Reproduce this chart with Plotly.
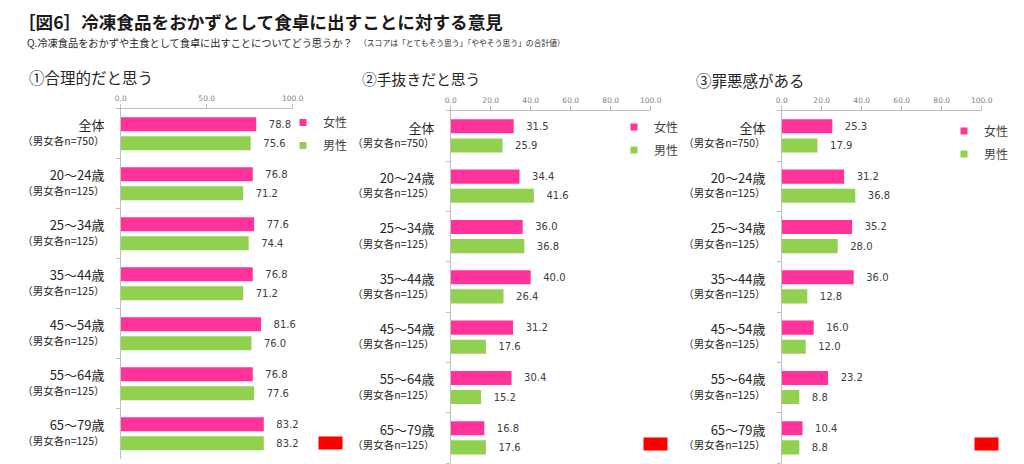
import plotly.graph_objects as go

# ---------------- data ----------------
categories = ["全体", "20～24歳", "25～34歳", "35～44歳", "45～54歳", "55～64歳", "65～79歳"]
sample_sizes = ["（男女各n=750）", "（男女各n=125）", "（男女各n=125）", "（男女各n=125）",
                "（男女各n=125）", "（男女各n=125）", "（男女各n=125）"]

panel_titles = ["①合理的だと思う", "②手抜きだと思う", "③罪悪感がある"]
series_names = ["女性", "男性"]

female_rational = [78.8, 76.8, 77.6, 76.8, 81.6, 76.8, 83.2]
male_rational = [75.6, 71.2, 74.4, 71.2, 76.0, 77.6, 83.2]

female_lazy = [31.5, 34.4, 36.0, 40.0, 31.2, 30.4, 16.8]
male_lazy = [25.9, 41.6, 36.8, 26.4, 17.6, 15.2, 17.6]

female_guilt = [25.3, 31.2, 35.2, 36.0, 16.0, 23.2, 10.4]
male_guilt = [17.9, 36.8, 28.0, 12.8, 12.0, 8.8, 8.8]

x_tick_steps = [50, 20, 20]

title_text = "［図6］冷凍食品をおかずとして食卓に出すことに対する意見"
subtitle_q = "Q.冷凍食品をおかずや主食として食卓に出すことについてどう思うか？"
subtitle_note = "（スコアは「とてもそう思う」「ややそう思う」の合計値）"
unit_text = "(%)"

# ---------------- styling ----------------
W, H = 1024, 464
OFF = 8  # page body margin of the browser
PINK = "#ff3399"
GREEN = "#92d050"
AXIS = "#bfbfbf"
JP = "Noto Sans CJK JP"
NUM = "DejaVu Sans"


def fx(px):
    return (px - OFF) / W


def fy(py):
    return 1 - (py - OFF) / H


# screen-pixel geometry of the three panels (left, right, top, bottom)
panels_px = [(120.7, 292.7, 108.7, 458.7),
             (450.7, 650.7, 110.7, 463.0),
             (781.7, 981.7, 110.7, 463.0)]

female_data = [female_rational, female_lazy, female_guilt]
male_data = [male_rational, male_lazy, male_guilt]

tick_labels = [
    f"<span style='font-size:13px'>{c}</span><br><span style='font-size:10.5px'>{s}</span>"
    for c, s in zip(categories, sample_sizes)
]

fig = go.Figure()
legend_names = ["legend", "legend2", "legend3"]

for i in range(3):
    xa = "x" if i == 0 else f"x{i+1}"
    ya = "y" if i == 0 else f"y{i+1}"
    for vals, name, col in [(female_data[i], series_names[0], PINK),
                            (male_data[i], series_names[1], GREEN)]:
        fig.add_trace(go.Bar(
            x=vals, y=categories, orientation="h", name=name,
            marker=dict(color=col, line=dict(width=0)),
            texttemplate="\u00a0\u00a0\u00a0%{x:.1f}", textposition="outside",
            textfont=dict(family=NUM, size=10, color="#404040"),
            constraintext="none", cliponaxis=False,
            xaxis=xa, yaxis=ya, showlegend=False, hoverinfo="skip",
        ))
    # legend entries
    for k, (name, col) in enumerate([(series_names[0], PINK), (series_names[1], GREEN)]):
        fig.add_trace(go.Scatter(
            x=[None], y=[None], mode="markers", name=name,
            marker=dict(symbol="square", size=7, color=col),
            xaxis=xa, yaxis=ya, legend=legend_names[i], showlegend=True,
            legendgroup=f"g{i}{k}",
        ))

layout = dict(
    width=W, height=H,
    margin=dict(l=0, r=0, t=0, b=0, autoexpand=False),
    paper_bgcolor="white", plot_bgcolor="white",
    barmode="group", bargap=0.24, bargroupgap=0.263,
    font=dict(family=JP, color="#404040"),
)

legend_pos = [(283, 108), (614, 112.5), (944, 116.5)]

for i, (l, r, t, b) in enumerate(panels_px):
    xk = "xaxis" if i == 0 else f"xaxis{i+1}"
    yk = "yaxis" if i == 0 else f"yaxis{i+1}"
    yref = "y" if i == 0 else f"y{i+1}"
    xref = "x" if i == 0 else f"x{i+1}"
    layout[xk] = dict(
        domain=[fx(l), fx(r)], anchor=yref, side="top", range=[0, 100],
        dtick=x_tick_steps[i], tick0=0, tickformat=".1f",
        showline=True, linecolor=AXIS, linewidth=1,
        ticks="outside", ticklen=4, tickcolor=AXIS,
        tickfont=dict(family=NUM, size=7.5, color="#7f7f7f"),
        showgrid=False, zeroline=False, fixedrange=True, automargin=False,
    )
    layout[yk] = dict(
        domain=[fy(b), fy(t)], anchor=xref, type="category",
        categoryorder="array", categoryarray=categories, autorange="reversed",
        showline=True, linecolor=AXIS, linewidth=1,
        ticks="outside", tickson="boundaries", ticklen=4, tickcolor=AXIS,
        tickmode="array", tickvals=categories, ticktext=tick_labels,
        tickfont=dict(family=JP, size=11, color="#262626"),
        ticklabelstandoff=13,
        showgrid=False, zeroline=False, fixedrange=True, automargin=False,
    )
    lx, ly = legend_pos[i]
    layout[legend_names[i]] = dict(
        x=fx(lx), y=fy(ly), xanchor="left", yanchor="top",
        bgcolor="rgba(0,0,0,0)", borderwidth=0,
        font=dict(family=JP, size=12, color="#404040"),
        tracegroupgap=4, itemclick=False, itemdoubleclick=False,
    )

annotations = [
    dict(text=f"<b>{title_text}</b>", x=fx(17), y=fy(21), xref="paper", yref="paper",
         xanchor="left", yanchor="middle", showarrow=False, borderpad=0,
         font=dict(family=JP, size=17.6, color="#1a1a1a")),
    dict(text=subtitle_q, x=fx(25), y=fy(42.5), xref="paper", yref="paper",
         xanchor="left", yanchor="middle", showarrow=False,
         font=dict(family=JP, size=10.2, color="#262626")),
    dict(text=subtitle_note, x=fx(357), y=fy(42.5), xref="paper", yref="paper",
         xanchor="left", yanchor="middle", showarrow=False,
         font=dict(family=JP, size=7.8, color="#262626")),
]
title_pos = [(27, 77, 15.5), (360, 79, 14.8), (694, 80, 15.5)]
for (tx, ty, ts), t in zip(title_pos, panel_titles):
    annotations.append(dict(text=t, x=fx(tx), y=fy(ty), xref="paper", yref="paper",
                            xanchor="left", yanchor="middle", showarrow=False,
                            font=dict(family=JP, size=ts, color="#262626")))
unit_pos = [(330, 443), (655, 443.7), (986.5, 444)]
for ux, uy in unit_pos:
    annotations.append(dict(text=unit_text, x=fx(ux), y=fy(uy), xref="paper", yref="paper",
                            xanchor="center", yanchor="middle", showarrow=False,
                            bgcolor="#ff0000", borderpad=0, width=23, height=12,
                            font=dict(family=NUM, size=6, color="#c00000")))
layout["annotations"] = annotations

fig.update_layout(**layout)
fig.write_html("out.html")
